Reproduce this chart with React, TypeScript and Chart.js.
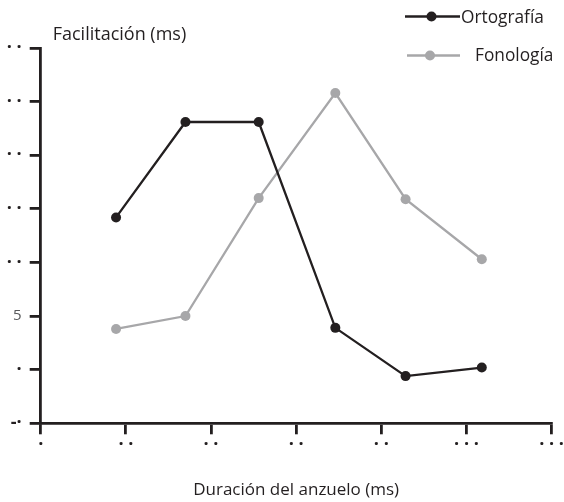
import React, { useEffect, useRef } from "react";
import { Chart, registerables } from "chart.js";

Chart.register(...registerables);

// Prime durations (ms) and facilitation (ms)
const DURATIONS = [17.7, 34, 51.2, 69.2, 85.7, 103.6];
const ORTOGRAFIA = [14.2, 23.1, 23.1, 3.9, -0.6, 0.2];
const FONOLOGIA = [3.8, 5.0, 16.0, 25.8, 15.9, 10.3];

const SERIES_NAMES = ["Ortografía", "Fonología"];
const SERIES_COLORS = ["#231f20", "#a7a7a9"];

// Tick labels as they appear in the picture (digit glyphs shown as dots)
const X_TICK_LABELS = ["·", "· ·", "· ·", "· ·", "· ·", "· · ·", "· · ·"];
const Y_TICK_LABELS = ["-·", "·", "5", "· ·", "· ·", "· ·", "· ·", "· ·"];

const X_TITLE = "Duración del anzuelo (ms)";
const Y_TITLE = "Facilitación (ms)";

const FONT = "'Open Sans', sans-serif";
const INK = "#231f20";

const tickFont = (c: any) => {
  const lbl = c.tick && c.tick.label;
  return lbl === "5"
    ? { family: FONT, size: 15, weight: "normal" }
    : { family: FONT, size: 18, weight: "bold" };
};
const tickColor = (c: any) => (c.tick && c.tick.label === "5" ? "#58595b" : INK);

const overlayPlugin = {
  id: "overlay",
  afterDraw(chart: any) {
    const ctx = chart.ctx;
    const area = chart.chartArea;
    ctx.save();
    ctx.fillStyle = INK;
    ctx.font = `18px ${FONT}`;
    ctx.textAlign = "left";
    ctx.textBaseline = "alphabetic";
    ctx.fillText(Y_TITLE, area.left + 12, area.top - 8);

    const items = [
      { x1: 405, x2: 460, dot: 431.5, y: 16.5, tx: 461, ty: 23 },
      { x1: 407, x2: 460, dot: 430, y: 55.5, tx: 475, ty: 61 },
    ];
    chart.data.datasets.forEach((ds: any, i: number) => {
      const it = items[i];
      ctx.strokeStyle = ds.borderColor;
      ctx.lineWidth = ds.borderWidth;
      ctx.beginPath();
      ctx.moveTo(it.x1, it.y);
      ctx.lineTo(it.x2, it.y);
      ctx.stroke();
      ctx.fillStyle = ds.pointBackgroundColor;
      ctx.beginPath();
      ctx.arc(it.dot, it.y, ds.pointRadius, 0, Math.PI * 2);
      ctx.fill();
      ctx.fillStyle = INK;
      ctx.font = `17.3px ${FONT}`;
      ctx.fillText(ds.label, it.tx, it.ty);
    });
    ctx.restore();
  },
};

export default function App() {
  const ref = useRef<HTMLCanvasElement | null>(null);

  useEffect(() => {
    document.body.style.margin = "0";
    const canvas = ref.current;
    if (!canvas) return;
    const mk = (i: number, ys: number[]) => ({
      label: SERIES_NAMES[i],
      data: DURATIONS.map((x, k) => ({ x, y: ys[k] })),
      borderColor: SERIES_COLORS[i],
      backgroundColor: SERIES_COLORS[i],
      pointBackgroundColor: SERIES_COLORS[i],
      pointBorderWidth: 0,
      pointRadius: 5,
      borderWidth: 2.3,
      tension: 0,
    });
    const chart = new Chart(canvas, {
      type: "line",
      data: { datasets: [mk(0, ORTOGRAFIA), mk(1, FONOLOGIA)] },
      options: {
        animation: false,
        responsive: false,
        layout: { padding: { top: 48, right: 12, left: 0, bottom: 0 } },
        plugins: { legend: { display: false }, tooltip: { enabled: false } },
        scales: {
          x: {
            type: "linear",
            min: 0,
            max: 120,
            afterFit: (s: any) => {
              s.height = 78.7;
            },
            ticks: {
              stepSize: 20,
              autoSkip: false,
              maxRotation: 0,
              padding: 0,
              color: INK,
              font: { family: FONT, size: 18, weight: "bold" },
              callback: (_v: any, i: number) => X_TICK_LABELS[i],
            },
            grid: {
              drawOnChartArea: false,
              drawTicks: true,
              tickLength: 11,
              color: INK,
              lineWidth: 2.8,
            },
            border: { display: true, color: INK, width: 2.8 },
            title: {
              display: true,
              text: X_TITLE,
              color: INK,
              font: { family: FONT, size: 17 },
              padding: { top: 0, bottom: 2 },
            },
          },
          y: {
            type: "linear",
            min: -5,
            max: 30,
            afterFit: (s: any) => {
              s.width = 40.7;
            },
            ticks: {
              stepSize: 5,
              autoSkip: false,
              padding: 8,
              color: tickColor as any,
              font: tickFont as any,
              callback: (_v: any, i: number) => Y_TICK_LABELS[i],
            },
            grid: {
              drawOnChartArea: false,
              drawTicks: true,
              tickLength: 11,
              color: INK,
              lineWidth: 2.8,
            },
            border: { display: true, color: INK, width: 2.8 },
          },
        },
      },
      plugins: [overlayPlugin],
    });
    return () => chart.destroy();
  }, []);

  return (
    <div style={{ width: 564, height: 502 }}>
      <canvas ref={ref} width={564} height={502} style={{ display: "block" }} />
    </div>
  );
}
